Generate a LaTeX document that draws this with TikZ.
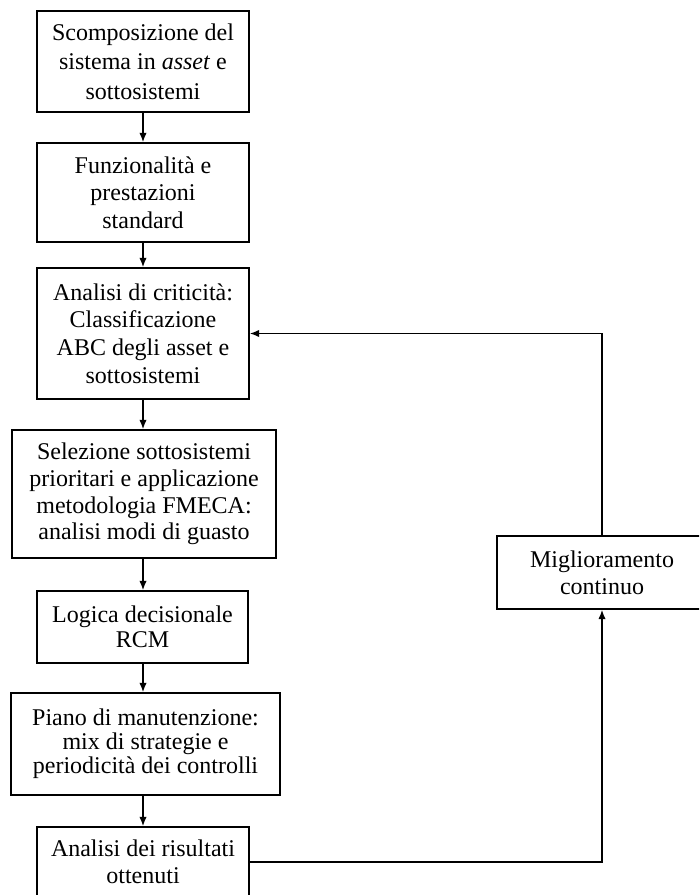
\documentclass[tikz,border=0pt]{standalone}
\usepackage{fontspec}
\setmainfont{Liberation Serif}
\usetikzlibrary{arrows.meta}
\begin{document}
\begin{tikzpicture}[x=0.75pt,y=-0.75pt,
  stepbox/.style n args={3}{draw,line width=1.1pt,inner sep=0pt,align=center,
    minimum width=#1*0.75pt,minimum height=#2*0.75pt,
    font=\fontsize{18}{#3}\selectfont},
  flow/.style={line width=1.1pt,-{Latex[length=7pt,width=5.5pt]}}]
\useasboundingbox (0,0) rectangle (699,895);
\clip (0,0) rectangle (699,895);

% main sequence of steps
\node[stepbox={212}{101}{22}] (b1) at (143,61.5)
  {Scomposizione del\\ sistema in \textit{asset} e\\ sottosistemi};
\node[stepbox={212}{99}{20.6}] (b2) at (143,192.5)
  {Funzionalità e\\ prestazioni\\ standard};
\node[stepbox={212}{131}{20.8}] (b3) at (143,333.5)
  {Analisi di criticità:\\ Classificazione\\ ABC degli asset e\\ sottosistemi};
\node[stepbox={264}{128}{20}] (b4) at (144,494)
  {Selezione sottosistemi\\ prioritari e applicazione\\ metodologia FMECA:\\ analisi modi di guasto};
\node[stepbox={211}{72}{18.8}] (b5) at (142.5,627)
  {Logica decisionale\\ RCM};
\node[stepbox={269}{102}{18}] (b6) at (145.5,744)
  {Piano di manutenzione:\\ mix di strategie e\\ periodicità dei controlli};
\node[stepbox={212}{70}{20}] (b7) at (143,862)
  {Analisi dei risultati\\ ottenuti};

% feedback step
\node[stepbox={210}{73}{20}] (mc) at (602,572.5)
  {Miglioramento\\ continuo};

% downward connectors
\draw[flow] (b1.south) -- (b2.north);
\draw[flow] (b2.south) -- (b3.north);
\draw[flow] (b3.south) -- (b3.south |- b4.north);
\draw[flow] (b3.south |- b4.south) -- (b5.north -| b3.south);
\draw[flow] (b5.south -| b3.south) -- (b3.south |- b6.north);
\draw[flow] (b7.north |- b6.south) -- (b7.north);

% improvement loop
\draw[flow] (b7.east) -| (mc.south);
\draw[flow] (mc.north) |- (b3.east);
\end{tikzpicture}
\end{document}
